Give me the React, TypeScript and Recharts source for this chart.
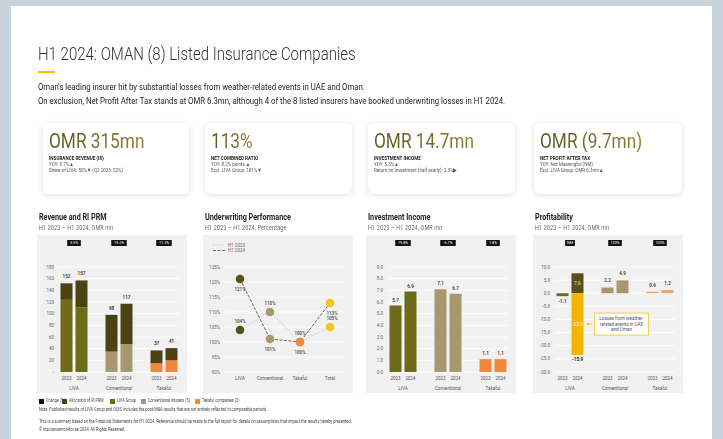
import React from "react";
import {
  Bar,
  BarChart,
  CartesianGrid,
  Cell,
  LabelList,
  Legend,
  Line,
  LineChart,
  XAxis,
  YAxis,
} from "recharts";

const groups = ["LIVA", "Conventional", "Takaful"];
const years = ["2023", "2024"];

// Revenue and RI PRM, H1 2023 - H1 2024, OMR mn
const revenueOwn = [125, 111, 35, 48, 15, 20];
const revenueRiPrm = [27, 46, 63, 69, 22, 21];
const revenueTotal = [152, 157, 98, 117, 37, 41];
const revenueChange = ["3.3%", "19.2%", "11.2%"];
const revenueTicks = [0, 20, 40, 60, 80, 100, 120, 140, 160, 180];

// Underwriting performance, net combined ratio (%)
const uwCategories = ["LIVA", "Conventional", "Takaful", "Total"];
const uw2023 = [104, 110, 100, 105];
const uw2024 = [121, 101, 100, 113];
const uwTicks = [90, 95, 100, 105, 110, 115, 120, 125];

// Investment income, OMR mn
const investIncome = [5.7, 6.9, 7.1, 6.7, 1.1, 1.1];
const investChange = ["19.8%", "-6.7%", "1.8%"];
const investTicks = [0, 1, 2, 3, 4, 5, 6, 7, 8, 9];

// Profitability, OMR mn
const profitBase = [-1.1, 7.6, 2.2, 4.9, 0.6, 1.2];
const profitLoss = [null, -23.5, null, null, null, null];
const profitTotal = [-1.1, -15.9, 2.2, 4.9, 0.6, 1.2];
const profitChange = ["NM", "120%", "100%"];
const profitTicks = [-30, -25, -20, -15, -10, -5, 0, 5, 10];
const lossNote = ["Losses from weather-", "related events in UAE", "and Oman"];

const C = {
  riPrm: "#4b4412",
  liva: "#6d6a18",
  livaDark: "#57511a",
  conv: "#a89870",
  tak: "#ef883c",
  takLight: "#f3a45e",
  loss: "#f4b400",
  total: "#f2c523",
};
const groupColor = [C.liva, C.conv, C.tak];
const uwColor = [C.livaDark, C.conv, C.tak, C.total];
const profitColor = [C.liva, C.livaDark, C.conv, C.conv, C.takLight, C.takLight];

type Row = { key: string; group?: string; year?: string; i?: number; [k: string]: any };

const buildRows = (series: Record<string, (number | null)[]>): Row[] => {
  const rows: Row[] = [];
  groups.forEach((group, g) => {
    years.forEach((year, y) => {
      const i = g * years.length + y;
      const row: Row = { key: `${group}-${year}`, group, year, i };
      Object.entries(series).forEach(([k, arr]) => {
        row[k] = arr[i] == null ? undefined : arr[i];
      });
      rows.push(row);
    });
    if (g < groups.length - 1) rows.push({ key: `gap${g}` });
  });
  return rows;
};

const revenueRows = buildRows({ own: revenueOwn, riPrm: revenueRiPrm });
const investRows = buildRows({ value: investIncome });
const profitRows = buildRows({ base: profitBase, loss: profitLoss });
const uwRows = uwCategories.map((cat, i) => ({ cat, h2023: uw2023[i], h2024: uw2024[i] }));

// label entries only exist for rows that hold a value for that series
const entryRow = (rows: Row[], key: string, index: number) =>
  rows.filter((r) => r[key] !== undefined)[index];

const W = 150;
const H = 158;
const BAND = 15;
const FONT = "Roboto, sans-serif";
const axisTick = { fontSize: 4.5, fill: "#666", fontFamily: FONT };

const YearTick = (props: any) => {
  const { x, y, payload } = props;
  const [group, year] = String(payload.value).split("-");
  if (!year) return null;
  return (
    <g fontFamily={FONT} fontSize={4.5} fill="#555">
      <text x={x} y={y + 7.6} textAnchor="middle">
        {year}
      </text>
      {year === years[1] && (
        <text x={x - BAND / 2} y={y + 17.6} textAnchor="middle">
          {group}
        </text>
      )}
    </g>
  );
};

const ChangeTick = (props: any) => {
  const { x, payload, changes } = props;
  const [group, year] = String(payload.value).split("-");
  if (year !== years[1]) return null;
  const cx = x - BAND / 2;
  const label = changes[groups.indexOf(group)];
  const bw = 6 + label.length * 1.9;
  return (
    <g>
      <rect x={cx - bw / 2} y={5} width={bw} height={6} fill="#111" />
      <text x={cx} y={9.3} textAnchor="middle" fontSize={3.8} fill="#fff" fontFamily={FONT}>
        {label}
      </text>
    </g>
  );
};

const box = (p: any) => {
  const x = Number(p.x);
  const y = Number(p.y);
  const w = Number(p.width);
  const h = Number(p.height);
  return { x, w, top: Math.min(y, y + h), bottom: Math.max(y, y + h), cx: x + w / 2 };
};

const valueText = (x: number, y: number, v: React.ReactNode, fill = "#333", weight = 600) => (
  <text x={x} y={y} textAnchor="middle" fontSize={4.6} fontWeight={weight} fill={fill} fontFamily={FONT}>
    {v}
  </text>
);

const revenueLabel = (p: any) => {
  const r = entryRow(revenueRows, "riPrm", p.index);
  if (!r || r.i === undefined) return null;
  const b = box(p);
  return valueText(b.cx, b.top - 5, revenueTotal[r.i]);
};

const investLabel = (p: any) => {
  const r = entryRow(investRows, "value", p.index);
  if (!r || r.i === undefined) return null;
  const b = box(p);
  return valueText(b.cx, b.top - 4, investIncome[r.i].toFixed(1));
};

const profitBaseLabel = (p: any) => {
  const r = entryRow(profitRows, "base", p.index);
  if (!r || r.i === undefined) return null;
  const b = box(p);
  const v = profitBase[r.i];
  if (profitLoss[r.i] != null) return valueText(b.cx, (b.top + b.bottom) / 2 + 1.6, v.toFixed(1), "#e9e4c4", 400);
  if (v >= 0) return valueText(b.cx, b.top - 5, v.toFixed(1));
  return valueText(b.cx, b.bottom + 6.5, v.toFixed(1));
};

const profitLossLabel = (p: any) => {
  const r = entryRow(profitRows, "loss", p.index);
  if (!r || r.i === undefined || profitLoss[r.i] == null) return null;
  const b = box(p);
  const cy = (b.top + b.bottom) / 2;
  const bx = b.x + b.w + 11;
  return (
    <g fontFamily={FONT}>
      {valueText(b.cx, cy + 1.6, profitLoss[r.i], "#fff", 400)}
      {valueText(b.cx, b.bottom + 6.5, profitTotal[r.i], "#222", 700)}
      <line x1={b.x + b.w + 4} x2={bx - 2} y1={cy} y2={cy} stroke={C.loss} strokeWidth={0.7} />
      <path d={`M${b.x + b.w + 3},${cy} l2.2,-1.4 v2.8 z`} fill={C.loss} />
      <rect x={bx} y={cy - 11} width={54} height={22} fill="#fff" stroke={C.total} strokeWidth={0.8} />
      {lossNote.map((t, k) => (
        <text key={k} x={bx + 27} y={cy - 4 + k * 5.5} textAnchor="middle" fontSize={4.6} fill="#555">
          {t}
        </text>
      ))}
    </g>
  );
};

const uwDot = (p: any) => (
  <circle key={`d-${p.dataKey}-${p.index}`} cx={p.cx} cy={p.cy} r={4.3} fill={uwColor[p.index]} />
);

const uwLabel = (above: boolean) => (p: any) =>
  valueText(Number(p.x) + (p.index === 3 ? 2 : 0), Number(p.y) + (above ? -7 : 11.5), `${p.value}%`, "#444", 500);

const UwTick = (props: any) => (
  <text x={props.x} y={props.y + 7.6} textAnchor="middle" fontSize={4.5} fill="#555" fontFamily={FONT}>
    {props.payload.value}
  </text>
);

const UwLegend = () => (
  <svg width={40} height={14} style={{ display: "block" }}>
    <line x1={0} x2={12} y1={3} y2={3} stroke="#c4c4c4" strokeWidth={0.8} strokeDasharray="1.5 1.5" />
    <text x={15} y={4.5} fontSize={4.5} fill="#666" fontFamily={FONT}>
      H1 2023
    </text>
    <line x1={0} x2={12} y1={8.5} y2={8.5} stroke="#555" strokeWidth={0.8} strokeDasharray="3 1.5" />
    <text x={15} y={10} fontSize={4.5} fill="#666" fontFamily={FONT}>
      H1 2024
    </text>
  </svg>
);

const T = ({ x, y, size, weight = 400, color = "#222", children, style }: any) => (
  <div
    style={{
      position: "absolute",
      left: x,
      top: y,
      fontSize: size,
      fontWeight: weight,
      color,
      lineHeight: 1,
      whiteSpace: "nowrap",
      transform: "scaleX(0.82)",
      transformOrigin: "left top",
      ...style,
    }}
  >
    {children}
  </div>
);

const cards = [
  { left: 43, width: 146, value: "OMR 315mn", title: "INSURANCE REVENUE (IR)", lines: ["YOY: 9.7%▲", "Share of LIVA: 50%▼    (Q2 2023: 53%)"] },
  { left: 205, width: 147, value: "113%", title: "NET COMBINED RATIO", lines: ["YOY: 8.2% points ▲", "Excl. LIVA Group: 101%▼"] },
  { left: 368, width: 147, value: "OMR 14.7mn", title: "INVESTMENT INCOME", lines: ["YOY: 5.3%▲", "Return on Investment (half yearly): 2.3%▶"] },
  { left: 534, width: 148, value: "OMR (9.7mn)", title: "NET PROFIT AFTER TAX", lines: ["YOY: Not Meaningful (NM)", "Excl. LIVA Group: OMR 6.3mn▲"] },
];

const panels = [
  { left: 37, title: "Revenue and RI PRM", sub: "H1 2023 – H1 2024, OMR mn" },
  { left: 203, title: "Underwriting Performance", sub: "H1 2023 – H1 2024, Percentage" },
  { left: 366, title: "Investment Income", sub: "H1 2023 – H1 2024, OMR mn" },
  { left: 533, title: "Profitability", sub: "H1 2023 – H1 2024, OMR mn" },
];

const legendItems = [
  { label: "Change (%)", color: "#111", left: 39 },
  { label: "Allocation of RI PRM", color: C.riPrm, left: 62 },
  { label: "LIVA Group", color: C.liva, left: 110 },
  { label: "Conventional insurers (5)", color: C.conv, left: 141 },
  { label: "Takaful companies (2)", color: C.tak, left: 195 },
];

const margin = { top: 0, right: 8, bottom: 0, left: 0 };

const commonX = (changes: string[]) => [
  <XAxis key="b" dataKey="key" interval={0} tickLine={false} axisLine={false} tickSize={0} tickMargin={0} height={21} tick={<YearTick />} />,
  <XAxis key="t" xAxisId="top" orientation="top" dataKey="key" interval={0} tickLine={false} axisLine={false} height={32} tick={<ChangeTick changes={changes} />} />,
];

const yAxisProps = {
  width: 22,
  tickLine: false,
  axisLine: false,
  tickSize: 0,
  tickMargin: 5,
  interval: 0 as const,
  tick: axisTick,
};

const App = () => {
  return (
    <div style={{ position: "fixed", left: 0, top: 0, width: 723, height: 439, background: "#c9d3dc", fontFamily: FONT, overflow: "hidden" }}>
      <div style={{ position: "absolute", left: 11, top: 6, width: 701, height: 440, background: "#fff" }} />

      <T x={38} y={45} size={18.3} weight={300} color="#333">
        H1 2024: OMAN (8) Listed Insurance Companies
      </T>
      <div style={{ position: "absolute", left: 38, top: 71, width: 17, height: 2, background: "#f2c500" }} />
      <T x={38} y={82.3} size={9.5} color="#222">
        Oman's leading insurer hit by substantial losses from weather-related events in UAE and Oman.
      </T>
      <T x={38} y={95.7} size={9.5} color="#222">
        On exclusion, Net Profit After Tax stands at OMR 6.3mn, although 4 of the 8 listed insurers have booked underwriting losses in H1 2024.
      </T>

      {cards.map((c) => (
        <div
          key={c.title}
          style={{ position: "absolute", left: c.left, top: 123, width: c.width, height: 71, background: "#fff", borderRadius: 6, boxShadow: "0 1px 6px rgba(0,0,0,0.13)" }}
        >
          <T
            x={6}
            y={7.6}
            size={21}
            style={{ backgroundImage: "linear-gradient(90deg, #5c5820, #8f7d2d)", WebkitBackgroundClip: "text", backgroundClip: "text", color: "transparent" }}
          >
            {c.value}
          </T>
          <T x={6} y={33.4} size={5.6} weight={700} color="#222">
            {c.title}
          </T>
          {c.lines.map((l, k) => (
            <T key={k} x={6} y={39.3 + k * 5.4} size={5.5} color="#555">
              {l}
            </T>
          ))}
        </div>
      ))}

      {panels.map((p) => (
        <React.Fragment key={p.title}>
          <T x={p.left + 2} y={213.3} size={8.8} weight={700} color="#222">
            {p.title}
          </T>
          <T x={p.left + 2} y={225} size={6.6} color="#666" style={{ letterSpacing: 0.2 }}>
            {p.sub}
          </T>
          <div style={{ position: "absolute", left: p.left, top: 235, width: W, height: H, background: "#f1f1f1" }} />
        </React.Fragment>
      ))}

      <div style={{ position: "absolute", left: panels[0].left, top: 235 }}>
        <BarChart width={W} height={H} data={revenueRows} margin={margin} barCategoryGap={1.5}>
          <CartesianGrid vertical={false} stroke="#fff" strokeWidth={0.8} />
          {commonX(revenueChange)}
          <YAxis {...yAxisProps} domain={[0, 180]} ticks={revenueTicks} tickFormatter={(v: number) => (v === 0 ? "-" : String(v))} />
          <Bar dataKey="own" stackId="r" isAnimationActive={false}>
            {revenueRows.map((r) => (
              <Cell key={r.key} fill={r.i === undefined ? "none" : groupColor[Math.floor(r.i / 2)]} />
            ))}
          </Bar>
          <Bar dataKey="riPrm" stackId="r" fill={C.riPrm} isAnimationActive={false}>
            <LabelList dataKey="riPrm" content={revenueLabel} />
          </Bar>
        </BarChart>
      </div>

      <div style={{ position: "absolute", left: panels[1].left, top: 235 }}>
        <LineChart width={W} height={H} data={uwRows} margin={{ top: 32, right: 8, bottom: 0, left: 0 }}>
          <CartesianGrid vertical={false} stroke="#fff" strokeWidth={0.8} />
          <XAxis dataKey="cat" interval={0} tickLine={false} axisLine={false} tickSize={0} tickMargin={0} height={21} padding={{ left: 15, right: 15 }} tick={<UwTick />} />
          <YAxis {...yAxisProps} domain={[90, 125]} ticks={uwTicks} tickFormatter={(v: number) => `${v}%`} />
          <Legend layout="horizontal" verticalAlign="middle" align="center" content={<UwLegend />} wrapperStyle={{ top: 7, left: 10, width: 40, height: 14 }} />
          <Line dataKey="h2023" stroke="#c4c4c4" strokeWidth={0.9} strokeDasharray="1.5 1.5" dot={uwDot} activeDot={false} isAnimationActive={false}>
            <LabelList dataKey="h2023" content={uwLabel(true)} />
          </Line>
          <Line dataKey="h2024" stroke="#555" strokeWidth={0.9} strokeDasharray="3 1.5" dot={uwDot} activeDot={false} isAnimationActive={false}>
            <LabelList dataKey="h2024" content={uwLabel(false)} />
          </Line>
        </LineChart>
      </div>

      <div style={{ position: "absolute", left: panels[2].left, top: 235 }}>
        <BarChart width={W} height={H} data={investRows} margin={margin} barCategoryGap={1.5}>
          <CartesianGrid vertical={false} stroke="#fff" strokeWidth={0.8} />
          {commonX(investChange)}
          <YAxis {...yAxisProps} domain={[0, 9]} ticks={investTicks} tickFormatter={(v: number) => v.toFixed(1)} />
          <Bar dataKey="value" isAnimationActive={false}>
            {investRows.map((r) => (
              <Cell key={r.key} fill={r.i === undefined ? "none" : groupColor[Math.floor(r.i / 2)]} />
            ))}
            <LabelList dataKey="value" content={investLabel} />
          </Bar>
        </BarChart>
      </div>

      <div style={{ position: "absolute", left: panels[3].left, top: 235 }}>
        <BarChart width={W} height={H} data={profitRows} margin={margin} barCategoryGap={1.5} stackOffset="sign">
          <CartesianGrid vertical={false} stroke="#fff" strokeWidth={0.8} />
          {commonX(profitChange)}
          <YAxis {...yAxisProps} domain={[-30, 10]} ticks={profitTicks} tickFormatter={(v: number) => v.toFixed(1)} />
          <Bar dataKey="base" stackId="p" isAnimationActive={false}>
            {profitRows.map((r) => (
              <Cell key={r.key} fill={r.i === undefined ? "none" : profitColor[r.i]} />
            ))}
            <LabelList dataKey="base" content={profitBaseLabel} />
          </Bar>
          <Bar dataKey="loss" stackId="p" fill={C.loss} isAnimationActive={false}>
            <LabelList dataKey="loss" content={profitLossLabel} />
          </Bar>
        </BarChart>
      </div>

      {legendItems.map((l) => (
        <React.Fragment key={l.label}>
          <div style={{ position: "absolute", left: l.left, top: 398.5, width: 5, height: 5, background: l.color }} />
          <T x={l.left + 6.5} y={399} size={4.6} color="#444">
            {l.label}
          </T>
        </React.Fragment>
      ))}
      <T x={39} y={407.5} size={4.8} color="#444">
        Note: Published results of LIVA Group and OQIC includes the post-M&A results that are not entirely reflected in comparable periods.
      </T>
      <T x={39} y={419.5} size={4.8} color="#444">
        This is a summary based on the Financial Statements for H1 2024. Reference should be made to the full report for details on assumptions that impact the results hereby presented.
      </T>
      <T x={39} y={427.5} size={4.8} color="#444">
        © insurancemonitor.ae 2024. All Rights Reserved.
      </T>
    </div>
  );
};

export default App;
